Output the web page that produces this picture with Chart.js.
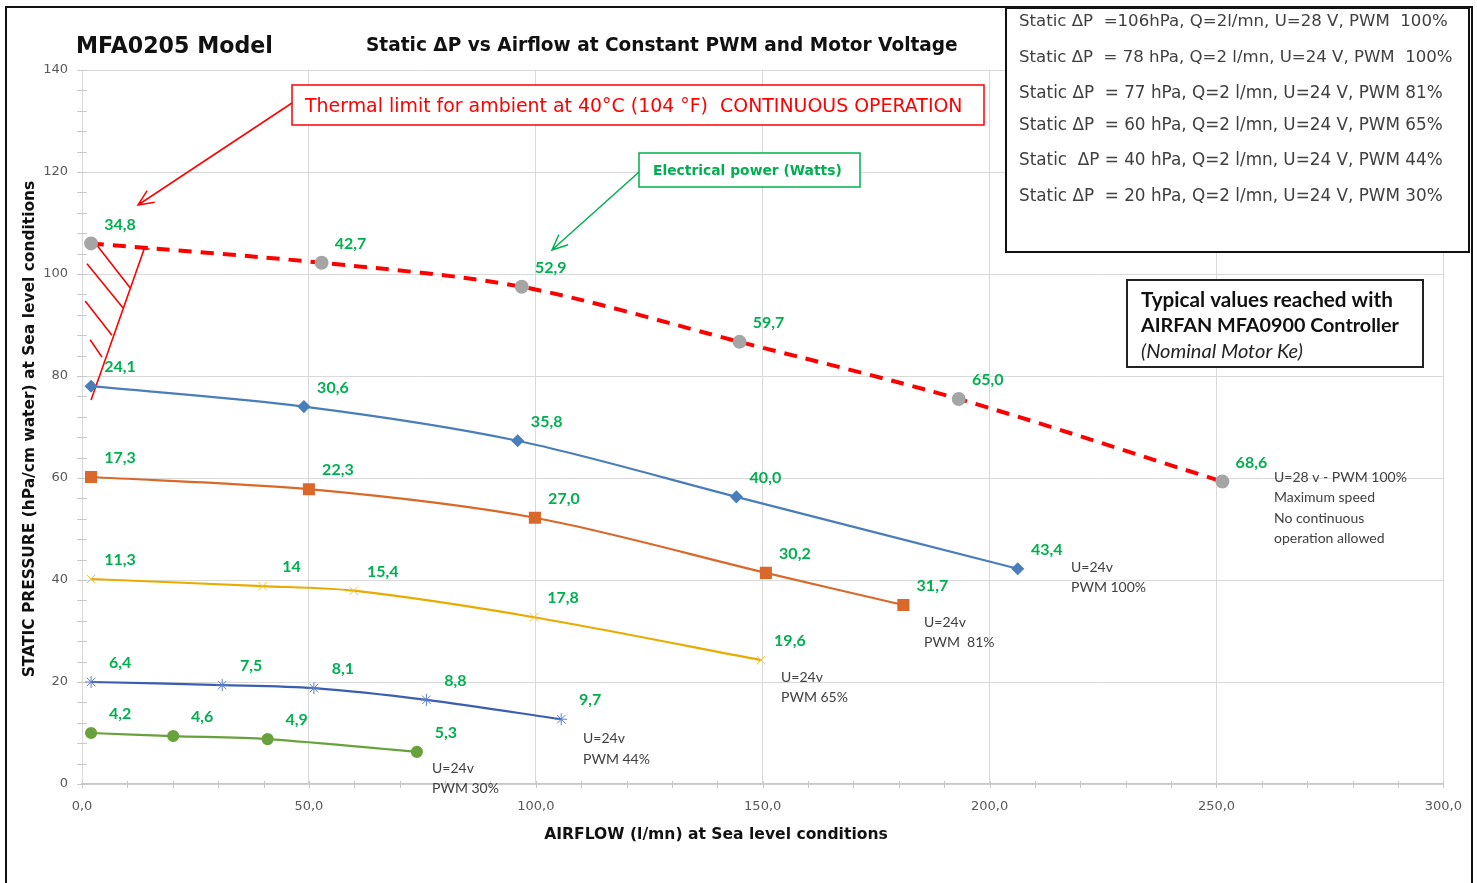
<!DOCTYPE html>
<html>
<head>
<meta charset="utf-8">
<title>MFA0205 Model</title>
<script src="https://cdn.jsdelivr.net/npm/chart.js@4.4.1/dist/chart.umd.min.js"></script>
<style>
  html, body { margin: 0; padding: 0; background: #fff; }
  #wrap { width: 1477px; height: 883px; position: relative; }
</style>
</head>
<body>
<div id="wrap"><canvas id="fanChart"></canvas></div>
<script>
// tick values of the two axes
const xTicks = [0, 50, 100, 150, 200, 250, 300];
const yTicks = [0, 20, 40, 60, 80, 100, 120, 140];

// U=28V, PWM 100% (thermal limit, dashed)
const airflow28v100 = [2, 52.8, 96.9, 144.9, 193.2, 251.3];
const pressure28v100 = [106, 102.2, 97.5, 86.7, 75.5, 59.3];
const watts28v100 = ['34,8', '42,7', '52,9', '59,7', '65,0', '68,6'];

// U=24V, PWM 100%
const airflow24v100 = [2, 48.9, 96.0, 144.2, 206.2];
const pressure24v100 = [78, 74.0, 67.3, 56.3, 42.2];
const watts24v100 = ['24,1', '30,6', '35,8', '40,0', '43,4'];

// U=24V, PWM 81%
const airflow24v81 = [2, 50.0, 99.8, 150.7, 181.0];
const pressure24v81 = [60.2, 57.8, 52.2, 41.4, 35.1];
const watts24v81 = ['17,3', '22,3', '27,0', '30,2', '31,7'];

// U=24V, PWM 65%
const airflow24v65 = [2, 39.8, 59.9, 99.6, 149.6];
const pressure24v65 = [40.2, 38.8, 37.9, 32.7, 24.3];
const watts24v65 = ['11,3', '14', '15,4', '17,8', '19,6'];

// U=24V, PWM 44%
const airflow24v44 = [2, 30.9, 51.1, 75.9, 105.6];
const pressure24v44 = [20.0, 19.4, 18.8, 16.5, 12.7];
const watts24v44 = ['6,4', '7,5', '8,1', '8,8', '9,7'];

// U=24V, PWM 30%
const airflow24v30 = [2, 20.1, 40.9, 73.8];
const pressure24v30 = [10.0, 9.4, 8.8, 6.3];
const watts24v30 = ['4,2', '4,6', '4,9', '5,3'];

const legendLines = [
  'Static \u0394P  =106hPa, Q=2l/mn, U=28 V, PWM  100%',
  'Static \u0394P  = 78 hPa, Q=2 l/mn, U=24 V, PWM  100%',
  'Static \u0394P  = 77 hPa, Q=2 l/mn, U=24 V, PWM 81%',
  'Static \u0394P  = 60 hPa, Q=2 l/mn, U=24 V, PWM 65%',
  'Static  \u0394P = 40 hPa, Q=2 l/mn, U=24 V, PWM 44%',
  'Static \u0394P  = 20 hPa, Q=2 l/mn, U=24 V, PWM 30%'
];

function pts(xs, ys) {
  return xs.map((x, i) => ({ x: x, y: ys[i] }));
}

const GOTHIC = '"DejaVu Sans", sans-serif';
const CALIBRI = 'Lato, "Open Sans", sans-serif';
const GREEN = '#00B050';

// draw text stretched so it spans the given width
function fitText(ctx, text, x, y, width, opt) {
  const base = 20;
  const f = (s) => `${opt.style || 'normal'} ${opt.weight || 'normal'} ${s}px ${opt.family}`;
  ctx.font = f(base);
  const w = ctx.measureText(text).width;
  ctx.font = f(base * width / w);
  ctx.fillStyle = opt.color;
  ctx.textAlign = opt.align || 'left';
  ctx.textBaseline = 'middle';
  ctx.fillText(text, x, y);
}

function arrow(ctx, x1, y1, x2, y2, color) {
  const a = Math.atan2(y2 - y1, x2 - x1);
  const len = 17, spread = 0.42;
  ctx.strokeStyle = color;
  ctx.lineWidth = 1.5;
  ctx.beginPath();
  ctx.moveTo(x1, y1);
  ctx.lineTo(x2, y2);
  ctx.moveTo(x2 - len * Math.cos(a - spread), y2 - len * Math.sin(a - spread));
  ctx.lineTo(x2, y2);
  ctx.lineTo(x2 - len * Math.cos(a + spread), y2 - len * Math.sin(a + spread));
  ctx.stroke();
}

const decor = {
  id: 'decor',
  beforeDatasetsDraw(chart) {
    const { ctx, scales: { x, y } } = chart;
    ctx.save();
    ctx.strokeStyle = '#c8c8c8';
    ctx.lineWidth = 1;
    ctx.beginPath();
    for (let v = 0; v <= 300; v += 10) {
      const px = Math.round(x.getPixelForValue(v)) + 0.5;
      ctx.moveTo(px, y.bottom - 3);
      ctx.lineTo(px, y.bottom + 4);
    }
    for (let v = 0; v <= 140; v += 4) {
      const py = Math.round(y.getPixelForValue(v)) + 0.5;
      ctx.moveTo(x.left - 5, py);
      ctx.lineTo(x.left + 5, py);
    }
    ctx.stroke();

    // thermal limit hatching, placed in data units
    const hatch = [
      [13.7, 104.9, 2.0, 75.3],
      [13.2, 104.9, 14.9, 104.9],
      [2.9, 106.1, 10.6, 97.3],
      [1.1, 102.0, 9.1, 93.3],
      [0.7, 94.7, 6.6, 88.0],
      [1.8, 87.1, 4.4, 83.7]
    ];
    ctx.strokeStyle = '#FF0000';
    ctx.lineWidth = 1.6;
    ctx.beginPath();
    hatch.forEach(h => {
      ctx.moveTo(x.getPixelForValue(h[0]), y.getPixelForValue(h[1]));
      ctx.lineTo(x.getPixelForValue(h[2]), y.getPixelForValue(h[3]));
    });
    ctx.stroke();
    ctx.restore();
  },
  afterDraw(chart) {
    const ctx = chart.ctx;
    ctx.save();

    // power labels above each point
    chart.data.datasets.forEach((ds, i) => {
      const meta = chart.getDatasetMeta(i);
      ctx.font = `bold 16px ${CALIBRI}`;
      ctx.fillStyle = GREEN;
      ctx.textAlign = 'center';
      ctx.textBaseline = 'middle';
      meta.data.forEach((p, j) => {
        ctx.fillText(ds.watts[j], p.x + 29, p.y - 19);
      });
    });

    // titles
    fitText(ctx, 'MFA0205 Model', 76, 47, 197, { weight: 'bold', family: GOTHIC, color: '#111' });
    fitText(ctx, 'Static \u0394P vs Airflow at Constant PWM and Motor Voltage', 366, 46, 592,
      { weight: 'bold', family: GOTHIC, color: '#111' });

    // axis titles
    fitText(ctx, 'AIRFLOW (l/mn) at Sea level conditions', 716, 835, 344,
      { weight: '600', family: GOTHIC, color: '#111', align: 'center' });
    ctx.save();
    ctx.translate(30, 429);
    ctx.rotate(-Math.PI / 2);
    fitText(ctx, 'STATIC PRESSURE (hPa/cm water) at Sea level conditions', 0, 0, 497,
      { weight: 'bold', family: GOTHIC, color: '#111', align: 'center' });
    ctx.restore();

    // thermal limit box
    ctx.fillStyle = '#fff';
    ctx.fillRect(292, 85, 692, 40);
    ctx.strokeStyle = '#FF0000';
    ctx.lineWidth = 1.5;
    ctx.strokeRect(292, 85, 692, 40);
    fitText(ctx, 'Thermal limit for ambient at 40\u00B0C (104 \u00B0F)  CONTINUOUS OPERATION', 305, 107, 658,
      { family: GOTHIC, color: '#FF0000' });
    arrow(ctx, 292, 103, 138, 205, '#FF0000');

    // electrical power box
    ctx.fillStyle = '#fff';
    ctx.fillRect(639, 153, 221, 34);
    ctx.strokeStyle = GREEN;
    ctx.strokeRect(639, 153, 221, 34);
    fitText(ctx, 'Electrical power (Watts)', 653, 171, 189, { weight: '600', family: GOTHIC, color: GREEN });
    arrow(ctx, 639, 172, 552, 250, GREEN);

    // series notes
    const notes = [
      [1274, [477, 497, 518, 538], ['U=28 v - PWM 100%', 'Maximum speed', 'No continuous', 'operation allowed']],
      [1071, [567, 587], ['U=24v', 'PWM 100%']],
      [924, [622, 642], ['U=24v', 'PWM  81%']],
      [781, [677, 697], ['U=24v', 'PWM 65%']],
      [583, [738, 759], ['U=24v', 'PWM 44%']],
      [432, [768, 788], ['U=24v', 'PWM 30%']]
    ];
    ctx.font = `14px ${CALIBRI}`;
    ctx.fillStyle = '#404040';
    ctx.textAlign = 'left';
    ctx.textBaseline = 'middle';
    notes.forEach(n => n[2].forEach((t, k) => ctx.fillText(t, n[0], n[1][k])));

    // typical values box
    ctx.fillStyle = '#fff';
    ctx.fillRect(1127, 280, 296, 87);
    ctx.strokeStyle = '#222';
    ctx.lineWidth = 2;
    ctx.strokeRect(1127, 280, 296, 87);
    fitText(ctx, 'Typical values reached with', 1141, 300, 252, { weight: 'bold', family: CALIBRI, color: '#111' });
    fitText(ctx, 'AIRFAN MFA0900 Controller', 1141, 326, 258, { weight: 'bold', family: CALIBRI, color: '#111' });
    fitText(ctx, '(Nominal Motor Ke)', 1141, 352, 162, { style: 'italic', family: CALIBRI, color: '#222' });

    // static pressure legend box
    ctx.fillStyle = '#fff';
    ctx.fillRect(1006, 8, 463, 244);
    ctx.strokeStyle = '#111';
    ctx.lineWidth = 2;
    ctx.strokeRect(1006, 8, 463, 244);
    const legY = [22, 58, 94, 126, 161, 197];
    const legW = [429, 434, 424, 424, 424, 424];
    legendLines.forEach((t, k) => fitText(ctx, t, 1019, legY[k], legW[k], { family: GOTHIC, color: '#404040' }));

    // outer frame
    ctx.strokeStyle = '#111';
    ctx.lineWidth = 2;
    ctx.beginPath();
    ctx.moveTo(6, 883);
    ctx.lineTo(6, 7);
    ctx.lineTo(1472, 7);
    ctx.lineTo(1472, 883);
    ctx.stroke();
    ctx.restore();
  }
};

const commonLine = { showLine: true, tension: 0.3, borderWidth: 2.2 };

new Chart(document.getElementById('fanChart').getContext('2d'), {
  type: 'scatter',
  data: {
    datasets: [
      Object.assign({}, commonLine, {
        label: 'U=28V PWM 100%', data: pts(airflow28v100, pressure28v100), watts: watts28v100,
        borderColor: '#FF0000', borderWidth: 4, borderDash: [13, 9],
        pointStyle: 'circle', pointRadius: 5, pointBackgroundColor: '#A5A5A5', pointBorderColor: '#A5A5A5'
      }),
      Object.assign({}, commonLine, {
        label: 'U=24V PWM 100%', data: pts(airflow24v100, pressure24v100), watts: watts24v100,
        borderColor: '#4A7EBB', pointStyle: 'rectRot', pointRadius: 5,
        pointBackgroundColor: '#4A7EBB', pointBorderColor: '#4A7EBB'
      }),
      Object.assign({}, commonLine, {
        label: 'U=24V PWM 81%', data: pts(airflow24v81, pressure24v81), watts: watts24v81,
        borderColor: '#D9682A', pointStyle: 'rect', pointRadius: 7,
        pointBackgroundColor: '#D9682A', pointBorderColor: '#D9682A'
      }),
      Object.assign({}, commonLine, {
        label: 'U=24V PWM 65%', data: pts(airflow24v65, pressure24v65), watts: watts24v65,
        borderColor: '#E8AC00', pointStyle: 'crossRot', pointRadius: 6,
        pointBackgroundColor: '#E8AC00', pointBorderColor: '#F2C230', pointBorderWidth: 1
      }),
      Object.assign({}, commonLine, {
        label: 'U=24V PWM 44%', data: pts(airflow24v44, pressure24v44), watts: watts24v44,
        borderColor: '#3A5EB0', pointStyle: 'star', pointRadius: 6,
        pointBackgroundColor: '#3A5EB0', pointBorderColor: '#5B7FD0', pointBorderWidth: 1
      }),
      Object.assign({}, commonLine, {
        label: 'U=24V PWM 30%', data: pts(airflow24v30, pressure24v30), watts: watts24v30,
        borderColor: '#68A23C', pointStyle: 'circle', pointRadius: 5,
        pointBackgroundColor: '#68A23C', pointBorderColor: '#68A23C'
      })
    ]
  },
  options: {
    responsive: true,
    maintainAspectRatio: false,
    animation: false,
    layout: { padding: { left: 0, top: 70, right: 33, bottom: 0 } },
    plugins: { legend: { display: false }, tooltip: { enabled: false } },
    scales: {
      x: {
        type: 'linear', min: 0, max: 300,
        afterBuildTicks: s => { s.ticks = xTicks.map(v => ({ value: v })); },
        afterFit: s => { s.height = 99; },
        grid: { color: '#d9d9d9', drawTicks: false },
        border: { color: '#c8c8c8', width: 1.5 },
        ticks: {
          padding: 15, color: '#595959', font: { family: GOTHIC, size: 13 },
          callback: v => v.toFixed(1).replace('.', ',')
        }
      },
      y: {
        type: 'linear', min: 0, max: 140,
        afterBuildTicks: s => { s.ticks = yTicks.map(v => ({ value: v })); },
        afterFit: s => { s.width = 82; },
        grid: { color: '#d9d9d9', drawTicks: false },
        border: { color: '#d9d9d9' },
        ticks: { padding: 14, color: '#595959', font: { family: GOTHIC, size: 13 } }
      }
    }
  },
  plugins: [decor]
});
</script>
</body>
</html>
